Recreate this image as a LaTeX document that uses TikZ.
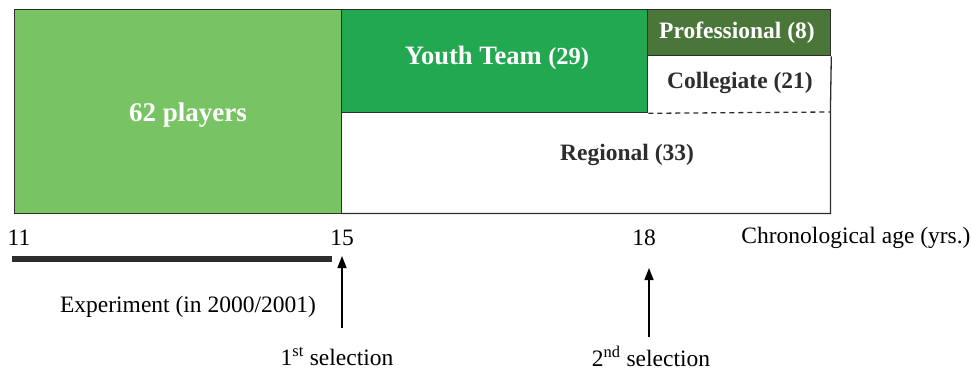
\documentclass[tikz,border=0pt]{standalone}
\usepackage{fontspec}
\setmainfont{Liberation Serif}
\usetikzlibrary{arrows.meta}
\definecolor{lightg}{RGB}{120,196,100}
\definecolor{midg}{RGB}{34,168,80}
\definecolor{darkg}{RGB}{74,118,57}
\definecolor{edge}{RGB}{45,45,45}
\begin{document}
\begin{tikzpicture}[x=1pt,y=-1pt,
  box/.style={draw=edge,line width=1.3pt,inner sep=0pt,anchor=north west},
  plain/.style={inner sep=0pt,anchor=north west},
  boldtxt/.style={font=\fontsize{23.5}{28}\selectfont\bfseries},
  reg/.style={font=\fontsize{23.5}{28}\selectfont},
  up/.style={-{Triangle[width=9pt,length=12pt]},line width=1.4pt}]
\useasboundingbox (0,0) rectangle (972,372);
% boxes
\node[box,fill=lightg,minimum width=327pt,minimum height=204pt] (players) at (14,9) {};
\node[box,fill=midg,minimum width=306pt,minimum height=103pt] (youth) at (341,9) {};
\node[box,fill=darkg,minimum width=183pt,minimum height=46pt] (pro) at (647,9) {};
\node[plain,minimum width=183pt,minimum height=57pt] (coll) at (647,55) {};
\node[plain,minimum width=489pt,minimum height=101pt] (regional) at (341,112) {};
\draw[edge,line width=1.3pt] (pro.south east) -- (regional.north east) -- (regional.south east) -- (regional.south west);
\draw[edge,line width=1.3pt,dash pattern=on 5pt off 4pt] (youth.south east) -- (regional.north east);
% box texts
\node[boldtxt,text=white,font=\fontsize{27}{32}\selectfont\bfseries] (tplayers) at (188,115) {62 players};
\node[boldtxt,text=white,font=\fontsize{26.5}{31}\selectfont\bfseries] (tyouth) at (497,58) {Youth Team {\fontsize{24.5}{29}\selectfont(29)}};
\node[boldtxt,text=white] (tpro) at (737,33) {Professional (8)};
\node[boldtxt,text=edge] (tcoll) at (740,83) {Collegiate (21)};
\node[boldtxt,text=edge] (treg) at (627,155) {Regional (33)};
% axis
\node[reg] (a11) at (19,238) {11};
\node[reg] (a15) at (342,238) {15};
\node[reg] (a18) at (644,238) {18};
\node[reg] (aage) at (856,238) {Chronological age (yrs.)};
\coordinate (barL) at (12,259);
\coordinate (barR) at (332,259);
\draw[line width=6pt,edge] (barL) -- (barR);
\node[reg] (exp) at (188,307) {Experiment (in 2000/2001)};
\coordinate (s1b) at (342,328);
\coordinate (s1t) at (342,256);
\coordinate (s2b) at (649,337);
\coordinate (s2t) at (649,268);
\draw[up] (s1b) -- (s1t);
\draw[up] (s2b) -- (s2t);
\node[reg] (sel1) at (337,356) {1\textsuperscript{st} selection};
\node[reg] (sel2) at (651,356) {2\textsuperscript{nd} selection};
\end{tikzpicture}
\end{document}
